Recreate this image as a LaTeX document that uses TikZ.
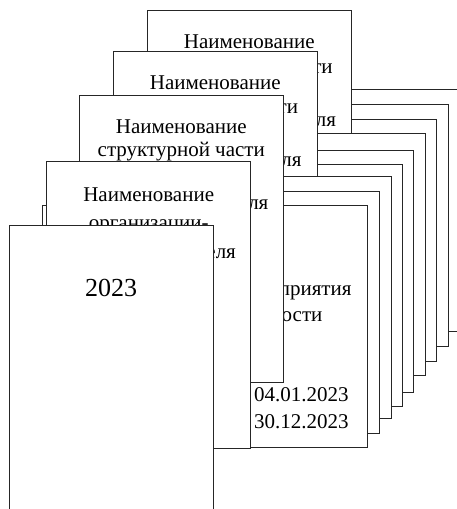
\documentclass[tikz,border=0pt]{standalone}
\usepackage{fontspec}
\setmainfont{Liberation Serif}
\usetikzlibrary{positioning}

\begin{document}
\begin{tikzpicture}[
    x=1pt, y=-1pt,
    sheet/.style={draw=black!85, fill=white, line width=0.9pt, anchor=north west,
                  inner sep=0pt, outer sep=0pt},
    portrait/.style={sheet, minimum width=204pt, minimum height=287pt},
    landscape/.style={sheet, anchor=north east, minimum width=325pt, minimum height=242pt},
    txt/.style={inner sep=0pt, anchor=base, font=\fontsize{21}{24}\selectfont},
    tail/.style={txt, anchor=base east},
    year/.style={txt, font=\fontsize{26}{30}\selectfont}
]
\useasboundingbox (0,0) rectangle (457,509);
\clip (0,0) rectangle (457,509);

% back of the landscape stack
\node[landscape] (r0) at (459.8,89) {};
\node[landscape] (r1) at (448.3,104) {};
\node[landscape] (r2) at (436.7,119) {};

% first title page
\node[portrait] (a) at (147.3,10) {};
\node[txt] (a1) at ([yshift=-38.3pt]a.north) {Наименование};
\node[tail] (a2) at ([xshift=-18.4pt, yshift=-63pt]a.north east) {ти};
\node[tail] (a3) at ([xshift=-15pt, yshift=-116.5pt]a.north east) {ля};

\node[landscape] (r3) at (425,133) {};
\node[landscape] (r4) at (413.3,150) {};
\node[landscape] (r5) at (402.3,164) {};

% second title page
\node[portrait] (b) at (113.3,51) {};
\node[txt] (b1) at ([yshift=-38.3pt]b.north) {Наименование};
\node[tail] (b2) at ([xshift=-19pt, yshift=-62pt]b.north east) {ти};
\node[tail] (b3) at ([xshift=-15.6pt, yshift=-115.5pt]b.north east) {ля};

\node[landscape] (r6) at (391,176) {};
\node[landscape] (r7) at (379.3,191) {};

% front of the landscape stack
\node[landscape] (r8) at (367.7,205) {};
\node[tail] (r8a) at ([xshift=-16pt, yshift=-90pt]r8.north east) {приятия};
\node[tail] (r8b) at ([xshift=-45pt, yshift=-116.7pt]r8.north east) {ости};
\node[txt, anchor=base west] (start) at ([xshift=-113.7pt, yshift=-196.7pt]r8.north east) {04.01.2023};
\node[txt, anchor=base west] (end) at ([yshift=-26.6pt]start.base west) {30.12.2023};

% third title page
\node[portrait] (c) at (79.3,95.3) {};
\node[txt] (c1) at ([yshift=-38pt]c.north) {Наименование};
\node[txt] (c2) at ([yshift=-23.4pt]c1.base) {структурной части};
\node[tail] (c3) at ([xshift=-14.7pt, yshift=-113.7pt]c.north east) {ля};

% fourth title page
\node[portrait] (d) at (46.7,161) {};
\node[txt] (d1) at ([yshift=-40.7pt]d.north) {Наименование};
\node[txt] (d2) at ([yshift=-27.9pt]d1.base) {организации-};
\node[tail] (d3) at ([xshift=-14.6pt, yshift=-97.3pt]d.north east) {еля};

% front title page
\node[portrait] (e) at (9,225.7) {};
\node[year] (e1) at ([yshift=-71pt]e.north) {2023};
\end{tikzpicture}
\end{document}
